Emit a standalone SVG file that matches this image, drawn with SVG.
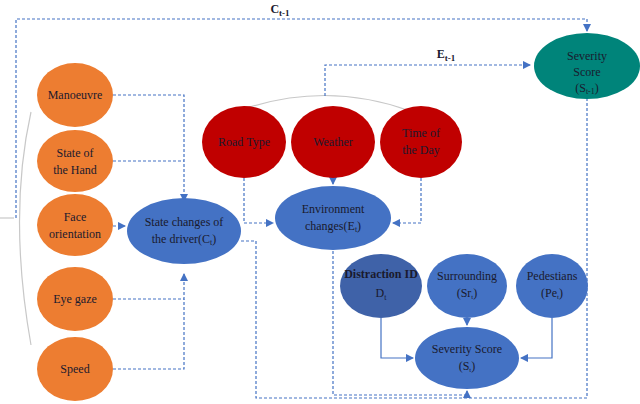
<svg xmlns="http://www.w3.org/2000/svg" width="640" height="404" viewBox="0 0 640 404">
<style>
text{font-family:"Liberation Serif",Tinos,"Times New Roman",serif;font-size:12px;fill:#1a1a2e;text-anchor:middle}
.o{fill:#ED7D31}.r{fill:#C00000}.b{fill:#4472C4}.d{fill:#3F62A8}.t{fill:#00847A}
.dl{fill:none;stroke:#4472C4;stroke-width:1.2;stroke-dasharray:3,2}
.sl{fill:none;stroke:#4472C4;stroke-width:1.2}
.g{fill:none;stroke:#c8c8c8;stroke-width:1.2}
</style>
<defs><marker id="a" viewBox="0 0 8 8" refX="7" refY="4" markerWidth="7" markerHeight="7" orient="auto"><path d="M0,0L8,4L0,8z" fill="#4472C4"/></marker></defs>
<rect width="640" height="404" fill="#fff"/>
<g id="connectors">
<path class="g" d="M31,112 Q8,215 31,345"/>
<path class="g" d="M0,218 H14"/>
<path class="g" d="M238,111 Q325,80 410,111"/>
<path class="dl" d="M16,218 V19 H587 V31" marker-end="url(#a)"/>
<path class="dl" d="M325,96 V65 H530" marker-end="url(#a)"/>
<path class="dl" d="M113,95 H184 V201" marker-end="url(#a)"/>
<path class="dl" d="M113,161 H184"/>
<path class="dl" d="M113,226 H125" marker-end="url(#a)"/>
<path class="dl" d="M113,299 H184 V274" marker-end="url(#a)"/>
<path class="dl" d="M113,369 H184 V299"/>
<path class="dl" d="M244,178 V223 H273" marker-end="url(#a)"/>
<path class="dl" d="M333,178 V184" marker-end="url(#a)"/>
<path class="dl" d="M421,178 V223 H393" marker-end="url(#a)"/>
<path class="dl" d="M241,241 H256 V398 H587 V99"/>
<path class="dl" d="M333,251 V395 H467 V391" marker-end="url(#a)"/>
<path class="sl" d="M381,318 V358 H413" marker-end="url(#a)"/>
<path class="sl" d="M467,318 V325" marker-end="url(#a)"/>
<path class="sl" d="M552,318 V358 H521" marker-end="url(#a)"/>
</g>
<text x="280" y="13" font-weight="bold" font-size="14">C<tspan font-size="9" dy="3">t-1</tspan></text>
<text x="446" y="58" font-weight="bold" font-size="14">E<tspan font-size="9" dy="3">t-1</tspan></text>
<g id="manoeuvre"><ellipse class="o" cx="75" cy="95" rx="38" ry="32"/><text x="75" y="99">Manoeuvre</text></g>
<g id="hand"><ellipse class="o" cx="75" cy="161" rx="38" ry="31"/><text x="75" y="157">State of</text><text x="75" y="174">the Hand</text></g>
<g id="face"><ellipse class="o" cx="75" cy="225" rx="38" ry="31"/><text x="75" y="221">Face</text><text x="75" y="238">orientation</text></g>
<g id="eye"><ellipse class="o" cx="75" cy="299" rx="38" ry="32"/><text x="75" y="303">Eye gaze</text></g>
<g id="speed"><ellipse class="o" cx="75" cy="369" rx="38" ry="32"/><text x="75" y="373">Speed</text></g>
<g id="road"><ellipse class="r" cx="244" cy="142" rx="42" ry="36"/><text x="244" y="146">Road Type</text></g>
<g id="weather"><ellipse class="r" cx="333" cy="142" rx="42" ry="36"/><text x="333" y="146">Weather</text></g>
<g id="time"><ellipse class="r" cx="421" cy="142" rx="41" ry="36"/><text x="421" y="137">Time of</text><text x="421" y="154">the Day</text></g>
<g id="state"><ellipse class="b" cx="184" cy="231" rx="57" ry="33"/><text x="184" y="226">State changes of</text><text x="184" y="243">the driver(C<tspan font-size="8" dy="2">t</tspan><tspan dy="-2">)</tspan></text></g>
<g id="env"><ellipse class="b" cx="333" cy="218" rx="58" ry="32"/><text x="333" y="213">Environment</text><text x="333" y="230">changes(E<tspan font-size="8" dy="2">t</tspan><tspan dy="-2">)</tspan></text></g>
<g id="sprev"><ellipse class="t" cx="587" cy="66" rx="53" ry="33"/><text x="587" y="60">Severity</text><text x="587" y="76">Score</text><text x="587" y="92">(S<tspan font-size="8" dy="2">t-1</tspan><tspan dy="-2">)</tspan></text></g>
<g id="distraction"><ellipse class="d" cx="381" cy="286" rx="41" ry="32"/><text x="381" y="278" font-size="9" font-weight="bold">Distraction ID</text><text x="381" y="297" font-size="14">D<tspan font-size="8" dy="3">t</tspan></text></g>
<g id="surrounding"><ellipse class="b" cx="467" cy="286" rx="40" ry="32"/><text x="467" y="280" font-size="11">Surrounding</text><text x="467" y="297" font-size="11">(Sr<tspan font-size="7" dy="2">t</tspan><tspan dy="-2">)</tspan></text></g>
<g id="pedestrians"><ellipse class="b" cx="552" cy="286" rx="36" ry="32"/><text x="552" y="280" font-size="11">Pedestians</text><text x="552" y="297" font-size="11">(Pe<tspan font-size="7" dy="2">t</tspan><tspan dy="-2">)</tspan></text></g>
<g id="severity"><ellipse class="b" cx="467" cy="358" rx="52" ry="31"/><text x="467" y="353" font-size="11">Severity Score</text><text x="467" y="370" font-size="11">(S<tspan font-size="7" dy="2">t</tspan><tspan dy="-2">)</tspan></text></g>
</svg>
